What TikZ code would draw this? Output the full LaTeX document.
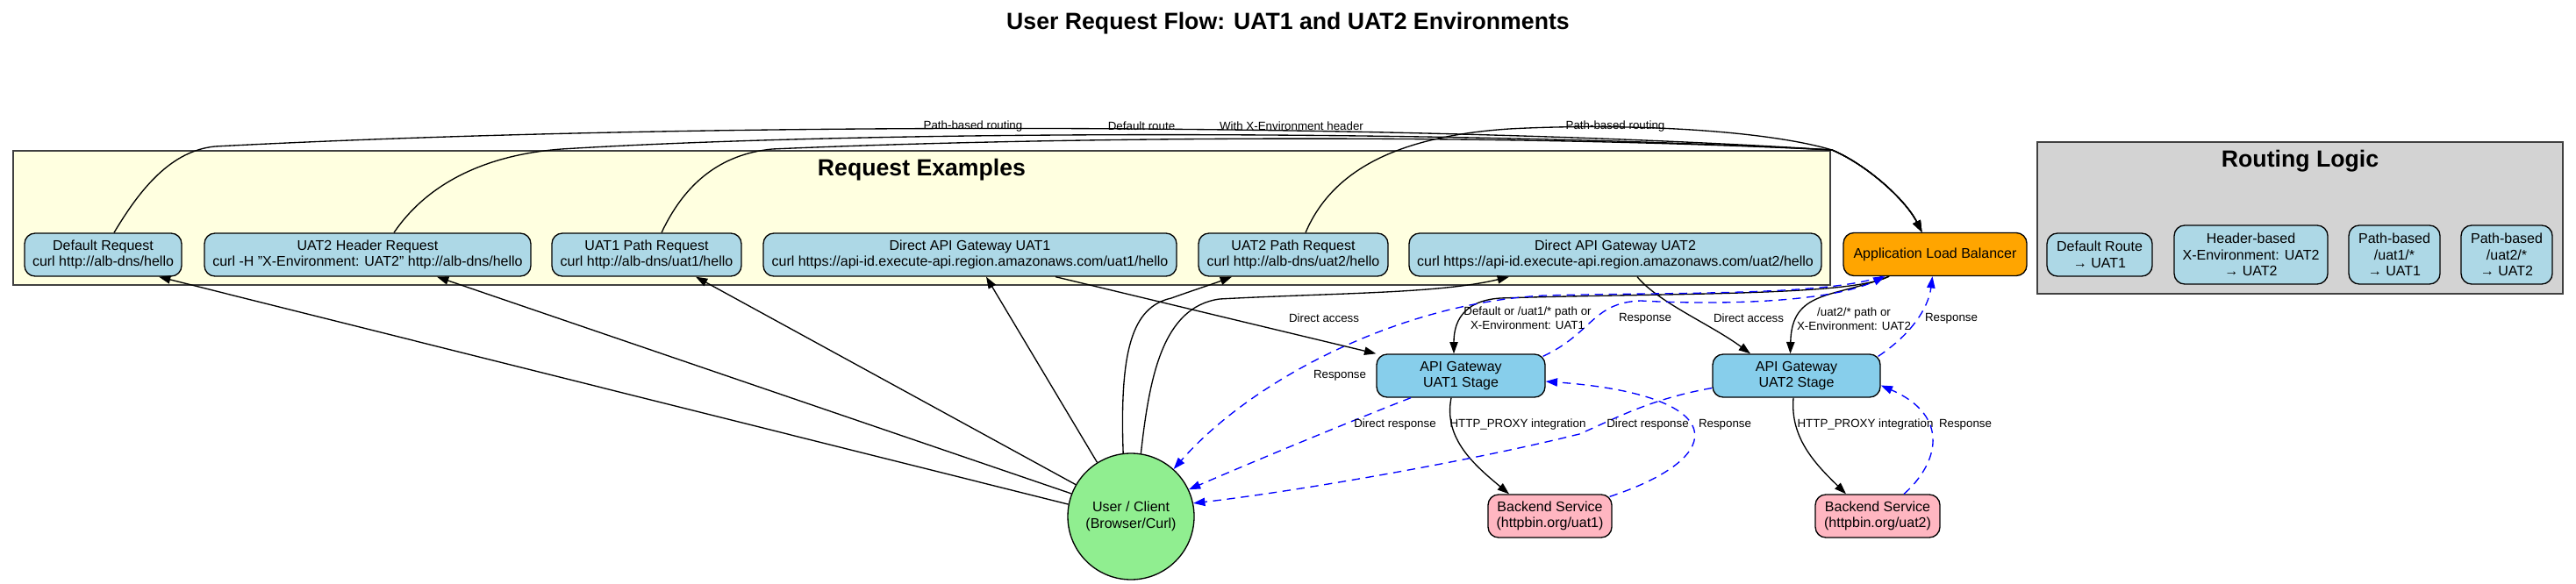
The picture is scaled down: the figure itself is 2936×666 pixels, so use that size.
\documentclass[tikz,border=0pt]{standalone}
\usepackage{fontspec}
\setmainfont{Liberation Sans}
\usetikzlibrary{arrows.meta,calc}
\definecolor{clyellow}{HTML}{FFFFE0}
\definecolor{clgrey}{HTML}{D3D3D3}
\definecolor{reqblue}{HTML}{ADD8E6}
\definecolor{gwblue}{HTML}{87CEEB}
\definecolor{albor}{HTML}{FFA500}
\definecolor{bepink}{HTML}{FFB6C1}
\definecolor{usergreen}{HTML}{90EE90}
\tikzset{
  nd/.style={draw=black, line width=1pt, rounded corners=9pt, inner sep=0pt, align=center, font=\fontsize{12}{14}\selectfont},
  wh/.style n args={2}{minimum width=#1*0.75pt, minimum height=#2*0.75pt},
  reqbox/.style={nd, fill=reqblue},
  clus/.style={draw=black!75, line width=1.5pt, inner sep=0pt},
  clustitle/.style={font=\fontsize{20}{24}\selectfont\bfseries, inner sep=0pt, anchor=base},
  edge/.style={draw=black, line width=1pt, -{Triangle[length=10pt,width=7pt]}},
  resp/.style={draw=blue, line width=1pt, dash pattern=on 7pt off 5pt, -{Triangle[length=10pt,width=7pt]}},
  elabel/.style={font=\fontsize{10}{12}\selectfont, align=center, inner sep=0pt}
}
\begin{document}
\begin{tikzpicture}[x=0.75pt,y=-0.75pt]
\fill[white] (0,0) rectangle (2936,666);
\useasboundingbox (0,0) rectangle (2936,666);

% title
\node[clustitle] (title) at (1468,34) {User Request Flow: UAT1 and UAT2 Environments};

% clusters
\node[clus, fill=clyellow, wh={2071}{153}] (reqc) at (1050.5,248.5) {};
\node[clustitle] (reqct) at (1050.5,201) {Request Examples};
\node[clus, fill=clgrey, wh={599}{173}] (rlc) at (2621.5,248.5) {};
\node[clustitle] (rlct) at (2621.5,191) {Routing Logic};

% request nodes
\node[reqbox, wh={179}{49}] (dr) at (117.5,290.5) {Default Request\\curl http://alb-dns/hello};
\node[reqbox, wh={372}{49}] (uh) at (419,290.5) {UAT2 Header Request\\curl -H "X-Environment: UAT2" http://alb-dns/hello};
\node[reqbox, wh={216}{49}] (u1p) at (737,290.5) {UAT1 Path Request\\curl http://alb-dns/uat1/hello};
\node[reqbox, wh={471}{49}] (da1) at (1105.5,290.5) {Direct API Gateway UAT1\\curl https://api-id.execute-api.region.amazonaws.com/uat1/hello};
\node[reqbox, wh={216}{49}] (u2p) at (1474,290.5) {UAT2 Path Request\\curl http://alb-dns/uat2/hello};
\node[reqbox, wh={470}{49}] (da2) at (1841,290.5) {Direct API Gateway UAT2\\curl https://api-id.execute-api.region.amazonaws.com/uat2/hello};

% routing logic nodes
\node[reqbox, wh={120}{49}] (rd) at (2393,290.5) {Default Route\\→ UAT1};
\node[reqbox, wh={175}{67}] (rh) at (2565.5,290.5) {Header-based\\X-Environment: UAT2\\→ UAT2};
\node[reqbox, wh={104}{67}] (rp1) at (2729,290.5) {Path-based\\/uat1/*\\→ UAT1};
\node[reqbox, wh={104}{67}] (rp2) at (2857,290.5) {Path-based\\/uat2/*\\→ UAT2};

% main nodes
\node[nd, fill=albor, wh={209}{49}] (alb) at (2205.5,290) {Application Load Balancer};
\node[nd, fill=gwblue, wh={192}{49}] (gw1) at (1665,428.5) {API Gateway\\UAT1 Stage};
\node[nd, fill=gwblue, wh={191}{49}] (gw2) at (2047.5,428.5) {API Gateway\\UAT2 Stage};
\node[nd, fill=bepink, wh={141}{49}] (be1) at (1766.5,588.5) {Backend Service\\(httpbin.org/uat1)};
\node[nd, fill=bepink, wh={142}{49}] (be2) at (2140,588.5) {Backend Service\\(httpbin.org/uat2)};
\node[nd, circle, fill=usergreen, minimum size=144*0.75pt] (user) at (1289,589) {User / Client\\(Browser/Curl)};

% user to request examples
\draw[edge] (user.169) -- ($(dr.south)+(63.5,0)$);
\draw[edge] (user.159) -- ($(uh.south)+(79,0)$);
\draw[edge] (user.150) -- ($(u1p.south)+(56,0)$);
\draw[edge] (user.122) -- ($(da1.south)+(18.5,0)$);
\draw[edge] (user.97) .. controls (1276,400) and (1290,350) .. (1335,340) .. controls (1360,331) and (1382,324) .. ($(u2p.south)+(-70,0)$);
\draw[edge] (user.81) .. controls (1310,430) and (1325,350) .. (1390,341) .. controls (1520,334) and (1640,335) .. ($(da2.south)+(-121,0)$);

% request examples to ALB
\coordinate (merge) at (2088,171);
\draw[edge] ($(dr.north)+(12.5,0)$) .. controls (160,215) and (195,172) .. (245,167) .. controls (800,138) and (1600,140) .. (merge) .. controls (2128,188) and (2172,228) .. ($(alb.north)+(-15,0)$);
\draw[edge] ($(uh.north)+(30,0)$) .. controls (490,205) and (560,176) .. (640,170) .. controls (1000,148) and (1650,148) .. (merge) .. controls (2128,188) and (2172,228) .. ($(alb.north)+(-15,0)$);
\draw[edge] ($(u1p.north)+(17,0)$) .. controls (780,210) and (820,176) .. (880,170) .. controls (1200,156) and (1700,152) .. (merge) .. controls (2128,188) and (2172,228) .. ($(alb.north)+(-15,0)$);
\draw[edge] ($(u2p.north)+(14,0)$) .. controls (1520,190) and (1600,155) .. (1720,147) .. controls (1850,140) and (2010,148) .. (merge) .. controls (2128,188) and (2172,228) .. ($(alb.north)+(-15,0)$);

% ALB / direct access to gateways
\draw[edge] ($(alb.south)+(-52.5,0)$) .. controls (2110,338) and (1900,334) .. (1710,340) .. controls (1665,343) and (1657,370) .. ($(gw1.north)+(-8,0)$);
\draw[edge] ($(alb.south)+(-52.5,0)$) .. controls (2090,340) and (2042,330) .. ($(gw2.north)+(-7,0)$);
\draw[edge] ($(da1.south)+(97.5,0)$) -- (gw1.north west);
\draw[edge] ($(da2.south)+(25,0)$) .. controls (1890,345) and (1950,370) .. ($(gw2.north)+(-52.5,0)$);

% gateways to backends
\draw[edge] ($(gw1.south)+(-11,0)$) .. controls (1645,500) and (1680,530) .. ($(be1.north)+(-46.5,0)$);
\draw[edge] ($(gw2.south)+(-3.5,0)$) .. controls (2040,500) and (2070,530) .. ($(be2.north)+(-36,0)$);

% responses
\draw[resp] ($(gw1.north east)+(-3,3)$) .. controls (1815,380) and (1815,345) .. (1870,343) .. controls (1960,348) and (2085,345) .. ($(alb.south)+(-57,0)$);
\draw[resp] ($(alb.south)+(-60,0)$) .. controls (2080,338) and (1900,333) .. (1760,337) .. controls (1600,345) and (1430,430) .. (user.48);
\draw[resp] ($(gw1.south)+(-57,0)$) .. controls (1540,480) and (1420,530) .. (user.25);
\draw[resp] ($(gw2.west)+(0,14)$) .. controls (1880,455) and (1840,478) .. (1800,495) .. controls (1680,525) and (1480,560) .. (user.12);
\draw[resp] ($(be1.north east)+(-3,3)$) .. controls (1975,520) and (1970,450) .. ($(gw1.east)+(0,6.5)$);
\draw[resp] ($(be2.north)+(30,0)$) .. controls (2208,530) and (2225,475) .. ($(gw2.east)+(0,11)$);
\draw[resp] ($(gw2.north east)+(-3,3)$) .. controls (2180,380) and (2198,350) .. ($(alb.south)+(-3,0)$);

% edge labels
\node[elabel] (l1) at (1109,144) {Path-based routing};
\node[elabel] (l2) at (1301,144) {Default route};
\node[elabel] (l3) at (1472,144) {With X-Environment header};
\node[elabel] (l4) at (1841,144) {Path-based routing};
\node[elabel] (l5) at (1741,363) {Default or /uat1/* path or\\X-Environment: UAT1};
\node[elabel] (l6) at (2113,364) {/uat2/* path or\\X-Environment: UAT2};
\node[elabel] (l7) at (1509,363) {Direct access};
\node[elabel] (l8) at (1993,363) {Direct access};
\node[elabel] (l9) at (1875,363) {Response};
\node[elabel] (l10) at (2224,363) {Response};
\node[elabel] (l11) at (1527,428) {Response};
\node[elabel] (l12) at (1590,484) {Direct response};
\node[elabel] (l13) at (1878,484) {Direct response};
\node[elabel] (l14) at (1730,484) {HTTP\_PROXY integration};
\node[elabel] (l15) at (2126,484) {HTTP\_PROXY integration};
\node[elabel] (l16) at (1966,484) {Response};
\node[elabel] (l17) at (2240,484) {Response};
\end{tikzpicture}
\end{document}
